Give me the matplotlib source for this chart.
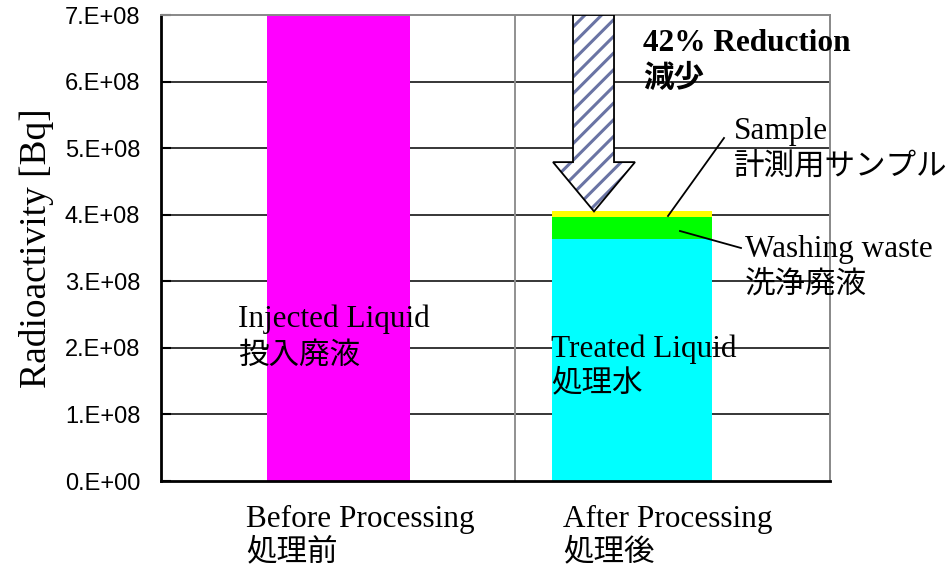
import numpy as np
import matplotlib.pyplot as plt
from matplotlib.patches import Polygon

plt.rcParams['hatch.linewidth'] = 2.2

SERIF = ['Liberation Serif', 'Noto Sans CJK JP']
SANS_JP = ['Noto Sans CJK JP', 'DejaVu Sans']

# stacked radioactivity totals [Bq]
injected = [7.0e8, 0.0]
treated = [0.0, 3.63e8]
washing = [0.0, 0.33e8]
sample = [0.0, 0.09e8]

x_pos = [0.0, 1.0]
bar_w = [0.487, 0.545]
y_ticks = np.arange(0, 8e8, 1e8)
y_tick_labels = ['0.E+00', '1.E+08', '2.E+08', '3.E+08', '4.E+08', '5.E+08', '6.E+08', '7.E+08']
cat_en = ['Before Processing', 'After Processing']
cat_jp = ['処理前', '処理後']

W, H = 947, 571
fig = plt.figure(figsize=(W / 100, H / 100), dpi=100)
ax = fig.add_axes([161 / W, 1 - 481 / H, (830 - 161) / W, (481 - 15) / H])

ax.set_xlim(-0.6048, 1.6746)
ax.set_ylim(0, 7e8)

for y in y_ticks[1:-1]:
    ax.axhline(y, color='black', lw=1.1, zorder=1)
ax.axvline(0.603, color='#909090', lw=1.4, zorder=1)

ax.bar(x_pos, injected, width=bar_w, color='#ff00ff', zorder=2)
ax.bar(x_pos, treated, width=bar_w, color='#00ffff', zorder=2)
b1 = np.array(treated)
ax.bar(x_pos, washing, width=bar_w, bottom=b1, color='#00ff00', zorder=2)
b2 = b1 + np.array(washing)
ax.bar(x_pos, sample, width=bar_w, bottom=b2, color='#ffff00', zorder=2)
total_after = b2[1] + sample[1]

# big hatched arrow pointing down onto the treated stack
ymax = 7e8
head_base = 4.79e8
arrow_pts = [(0.799, ymax), (0.9387, ymax), (0.9387, head_base), (1.0102, head_base),
             (0.8705, total_after), (0.7308, head_base), (0.799, head_base)]
ax.add_patch(Polygon(arrow_pts, closed=True, facecolor='white', edgecolor='#6a74a4',
                     hatch='//', lw=0, zorder=3))
ax.add_patch(Polygon(arrow_pts, closed=True, facecolor='none', edgecolor='black',
                     lw=1.3, zorder=4))

ax.set_yticks(y_ticks)
ax.set_yticklabels(y_tick_labels, family='Liberation Sans', fontsize=17)
ax.tick_params(axis='y', direction='in', length=7, width=1.5, pad=15)
ax.set_xticks([])

for side in ['top', 'right']:
    ax.spines[side].set_color('#888888')
    ax.spines[side].set_linewidth(1.4)
for side in ['left', 'bottom']:
    ax.spines[side].set_color('black')
    ax.spines[side].set_linewidth(2.0)

ax.set_ylabel('Radioactivity [Bq]', family=SERIF, fontsize=27, labelpad=8)


def put(px, py, s, font, size, va, weight='normal'):
    fig.text(px / W, 1 - py / H, s, family=font, fontsize=size, va=va,
             ha='left', weight=weight, zorder=5)


put(238, 327, 'Injected Liquid', SERIF, 22.5, 'baseline')
put(238, 355, '投入廃液', SANS_JP, 22, 'center')
put(551, 357, 'Treated Liquid', SERIF, 22.5, 'baseline')
put(551, 383, '処理水', SANS_JP, 22, 'center')

for xp, en, jp in zip([246, 563], cat_en, cat_jp):
    put(xp, 527, en, SERIF, 22.5, 'baseline')
    put(xp, 552, jp, SANS_JP, 22, 'center')

put(643, 51, '42% Reduction', SERIF, 22.5, 'baseline', weight='bold')
put(643, 78, '減少', SANS_JP, 22, 'center', weight='bold')
put(734, 139, 'Sample', SERIF, 22.5, 'baseline')
put(734, 166, '計測用サンプル', SANS_JP, 22, 'center')
put(745, 257, 'Washing waste', SERIF, 22.5, 'baseline')
put(745, 284, '洗浄廃液', SANS_JP, 22, 'center')

# leader lines from the thin layers to their labels
for (x0, y0), (x1, y1) in [((668, 216), (724, 138)), ((680, 231), (741, 248))]:
    fig.add_artist(plt.Line2D([x0 / W, x1 / W], [1 - y0 / H, 1 - y1 / H],
                              transform=fig.transFigure, color='black', lw=1.3))

fig.savefig('out.png', dpi=100)
